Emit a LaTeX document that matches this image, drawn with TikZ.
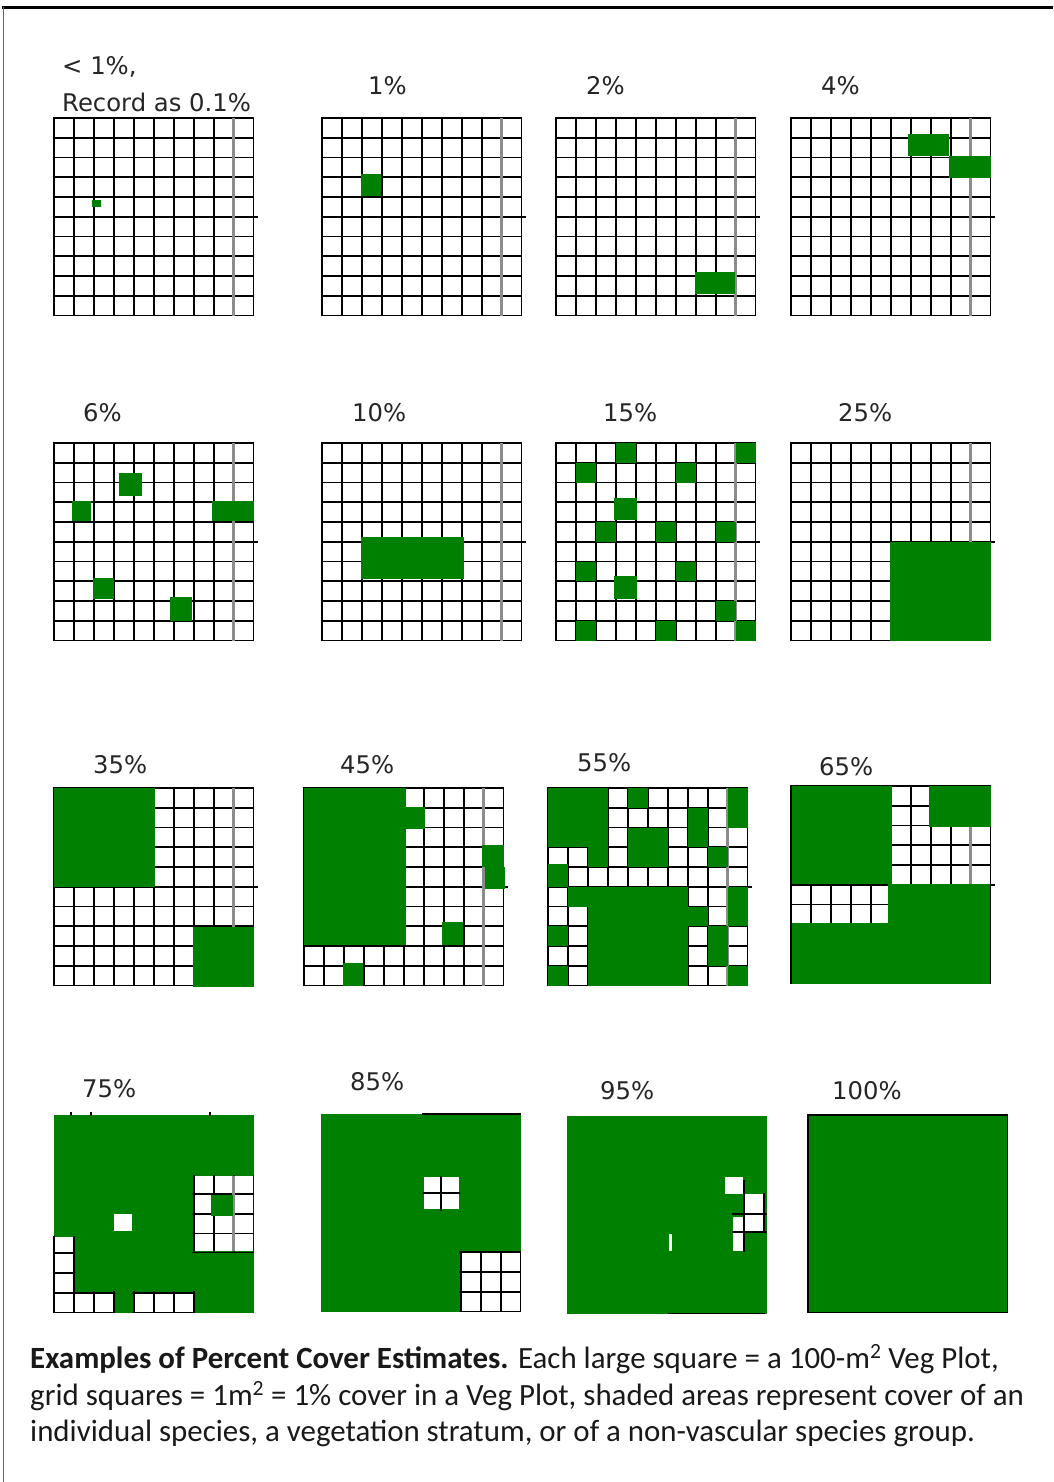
\documentclass[tikz,border=0pt]{standalone}
\usepackage{fontspec}
\setmainfont{Carlito}
\newfontfamily\lblfont{DejaVu Sans}
\definecolor{vgreen}{RGB}{0,128,0}
\tikzset{
  gl/.style={black, line width=1.9pt, line cap=rect},
  gl9/.style={black!45, line width=2.8pt},
  vg/.style={fill=vgreen},
  lbl/.style={font=\lblfont\fontsize{24.3}{28}\selectfont, inner sep=0pt, anchor=base west, text=black!85},
  captxt/.style={font=\fontsize{30.9}{36}\selectfont, inner sep=0pt, anchor=base west, text=black!90},
}
\newcommand\pcgridlines{\foreach \i in {0,...,10}{\draw[gl] (\i,0)--(\i,10); \draw[gl] (0,\i)--(10,\i);}}
\newcommand\pcstd{\pcgridlines \draw[gl9] (9,0)--(9,10); \draw[gl] (10,5)--(10.2,5);}
\newcommand\pcwhite[4]{\fill[white] (#1,#2) rectangle (#3,#4);
  \begin{scope}\clip (#1-0.06,#2-0.06) rectangle (#3+0.06,#4+0.06); \pcgridlines\end{scope}}
\newcommand\pcplot[3]{\begin{scope}[shift={(#1,#2)}, x=19.95pt, y=-19.75pt] #3 \end{scope}}
\begin{document}
\begin{tikzpicture}[x=1pt, y=-1pt]
\useasboundingbox[fill=white] (0,0) rectangle (1053,1482);
% frame
\draw[black, line width=2.5pt] (2,7.5) -- (1053,7.5);
\draw[black!60, line width=1.5pt] (3.5,7.5) -- (3.5,1482);

% ---- row 1
\node[lbl] (t1a) at (62,75) {< 1\%,};
\node[lbl] (t1b) at (62,112) {Record as 0.1\%};
\node[lbl] (t2) at (368,95) {1\%};
\node[lbl] (t3) at (586,95) {2\%};
\node[lbl] (t4) at (821,95) {4\%};
\pcplot{54}{118}{\pcstd \fill[vg] (1.9,4.13) rectangle (2.34,4.52);}
\pcplot{322}{118}{\pcstd \fill[vg] (1.93,2.86) rectangle (2.98,3.93);}
\pcplot{556}{118}{\pcstd \fill[vg] (6.97,7.8) rectangle (8.97,8.9);}
\pcplot{791}{118}{\pcstd \fill[vg] (5.86,0.82) rectangle (7.92,1.94); \fill[vg] (7.92,1.94) rectangle (10,3.06);}

% ---- row 2
\node[lbl] (t5) at (83,421) {6\%};
\node[lbl] (t6) at (352,421) {10\%};
\node[lbl] (t7) at (603,421) {15\%};
\node[lbl] (t8) at (838,421) {25\%};
\pcplot{54}{443}{\pcstd
  \fill[vg] (3.28,1.5) rectangle (4.43,2.7);
  \fill[vg] (0.9,2.92) rectangle (1.85,3.97);
  \fill[vg] (7.9,2.92) rectangle (10,3.97);
  \fill[vg] (1.97,6.83) rectangle (3.0,7.88);
  \fill[vg] (5.82,7.8) rectangle (6.94,9.0);}
\pcplot{322}{443}{\pcstd \fill[vg] (1.93,4.78) rectangle (7.13,6.88);}
\pcplot{556}{443}{\pcstd
  \foreach \c/\r in {3/0,9/0,1/1,6/1,2/4,5/4,8/4,1/6,6/6,8/8,1/9,5/9,9/9}{\fill[vg] (\c,\r) rectangle ++(1,1);}
  \fill[vg] (2.9,2.8) rectangle (4.05,3.92);
  \fill[vg] (2.9,6.72) rectangle (4.05,7.88);}
\pcplot{791}{443}{\pcstd \fill[vg] (4.96,5) rectangle (10,10);}

% ---- row 3
\node[lbl] (t9) at (93,773) {35\%};
\node[lbl] (t10) at (340,773) {45\%};
\node[lbl] (t11) at (577,771) {55\%};
\node[lbl] (t12) at (819,775) {65\%};
\pcplot{54}{788}{\pcstd \fill[vg] (0,0) rectangle (5.05,5.02); \fill[vg] (6.96,7.04) rectangle (10,10.08);}
\pcplot{304}{788}{\pcstd
  \fill[vg] (0,0) rectangle (5.1,7.95);
  \fill[vg] (5.1,0.96) rectangle (6.04,2.09);
  \fill[vg] (8.9,2.87) rectangle (10,4.0);
  \fill[vg] (9.05,4.0) rectangle (10.08,5.1);
  \fill[vg] (6.9,6.76) rectangle (7.96,7.94);
  \fill[vg] (1.94,8.85) rectangle (2.98,10);}
\pcplot{548}{788}{\pcstd
  \fill[vg] (0,0) rectangle (3,3);
  \fill[vg] (2,3) rectangle (3,4);
  \fill[vg] (0,3.85) rectangle (1,5);
  \fill[vg] (4,0) rectangle (5,1);
  \fill[vg] (4,2) rectangle (6,4);
  \fill[vg] (7,1) rectangle (8,3);
  \fill[vg] (9,0) rectangle (10,2);
  \fill[vg] (8,3) rectangle (9,4);
  \fill[vg] (1,5) rectangle (7,6);
  \fill[vg] (2,6) rectangle (8,7);
  \fill[vg] (2,7) rectangle (7,10);
  \fill[vg] (9,5) rectangle (10,7);
  \fill[vg] (0,7) rectangle (1,8);
  \fill[vg] (8,7) rectangle (9,9);
  \fill[vg] (0,9) rectangle (1,10);
  \fill[vg] (9,9) rectangle (10,10);}
\pcplot{791}{786}{\pcstd
  \fill[vg] (0,0) rectangle (5.05,4.97);
  \fill[vg] (6.9,0) rectangle (10,2.08);
  \fill[vg] (4.88,4.97) rectangle (10,10);
  \fill[vg] (0,6.92) rectangle (4.88,10);
  \draw[gl] (0,0)--(0,10);
  \draw[gl] (10,2.9)--(10,10);}

% ---- row 4
\node[lbl] (t13) at (82,1097) {75\%};
\node[lbl] (t14) at (350,1090) {85\%};
\node[lbl] (t15) at (600,1099) {95\%};
\node[lbl] (t16) at (832,1099) {100\%};
\pcplot{54}{1115}{
  \fill[vg] (0,0) rectangle (10,10);
  \pcwhite{7}{3.1}{9.95}{6.9}
  \draw[gl9] (9,3.1)--(9,6.9);
  \fill[vg] (7.85,4.05) rectangle (8.95,5.1);
  \fill[white] (3,5) rectangle (3.9,5.85);
  \pcwhite{0}{6.2}{1}{10}
  \pcwhite{0}{9}{3}{10}
  \pcwhite{4}{9}{7}{10}
  \draw[gl] (0.83,0)--(0.83,-0.12); \draw[gl] (1.87,0)--(1.87,-0.12); \draw[gl] (7.8,0)--(7.8,-0.12);}
\pcplot{321}{1114}{
  \fill[vg] (0,0) rectangle (10,10);
  \pcwhite{5.15}{3.2}{6.9}{4.8}
  \pcwhite{7}{7}{10}{10}
  \draw[gl] (5.1,0)--(10,0);}
\pcplot{567}{1116}{
  \fill[vg] (0,0) rectangle (10,10);
  \fill[white] (7.9,3.1) rectangle (8.8,3.95);
  \fill[white] (8.93,3.95) rectangle (9.87,5.85);
  \fill[white] (8.3,5.1) rectangle (8.8,6.82);
  \fill[white] (5.12,5.95) rectangle (5.24,6.82);
  \draw[gl] (8.87,3.3)--(8.87,6.83);
  \draw[gl] (9.88,3.93)--(9.88,5.85);
  \draw[gl] (8.31,4.98)--(10,4.98);
  \draw[gl] (8.31,5.85)--(10,5.85);
  \draw[gl] (5.12,10)--(9.87,10);}
\pcplot{808}{1115}{
  \fill[vg] (0,0) rectangle (10,10);
  \draw[black, line width=1.8pt] (0,0) rectangle (10,10);}

% ---- caption
\node[captxt] (c1) at (30,1368) {\textbf{Examples of Percent Cover Estimates.} Each large square = a 100-m\textsuperscript{2} Veg Plot,};
\node[captxt] (c2) at (30,1405) {grid squares = 1m\textsuperscript{2} = 1\% cover in a Veg Plot, shaded areas represent cover of an};
\node[captxt] (c3) at (30,1441) {individual species, a vegetation stratum, or of a non-vascular species group.};
\end{tikzpicture}
\end{document}
